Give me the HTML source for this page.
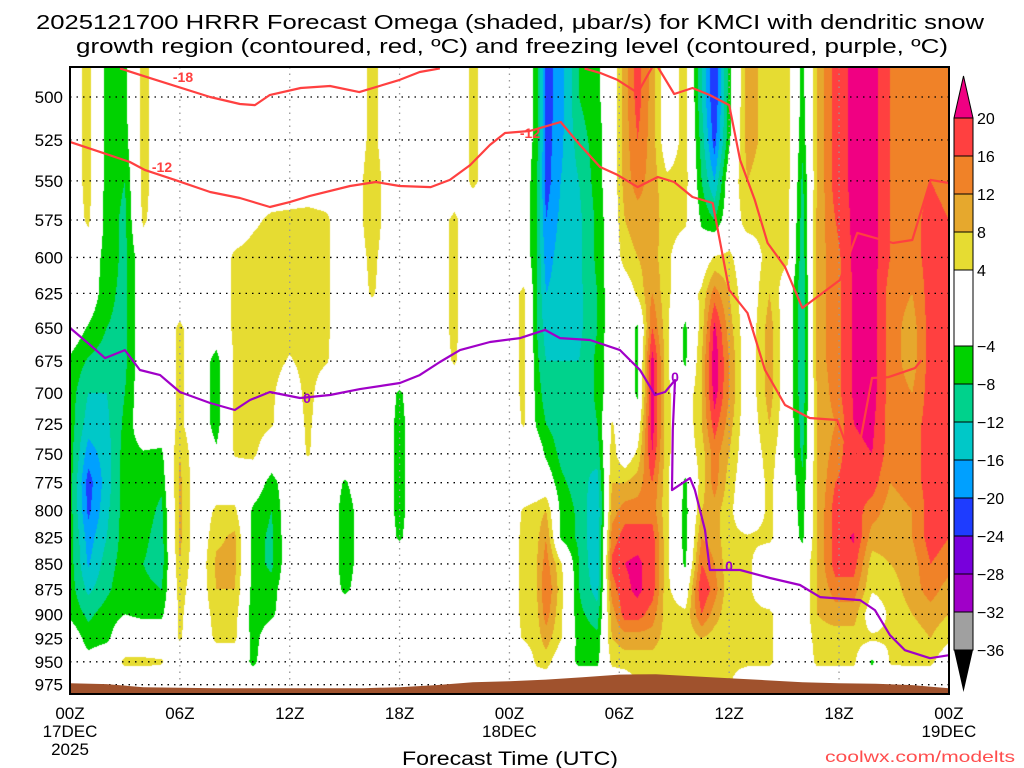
<!DOCTYPE html>
<html><head><meta charset="utf-8"><style>
html,body{margin:0;padding:0;background:#fff;width:1024px;height:768px;overflow:hidden}
#plot{position:absolute;left:70px;top:67px}
svg{position:absolute;left:0;top:0}
text{font-family:"Liberation Sans",sans-serif}
</style></head><body>
<canvas id="plot" width="879" height="627"></canvas>
<svg id="ov" width="1024" height="768">
<text x="510" y="29" text-anchor="middle" font-size="20" textLength="948" lengthAdjust="spacingAndGlyphs">2025121700 HRRR Forecast Omega (shaded, μbar/s) for KMCI with dendritic snow</text>
<text x="512" y="53" text-anchor="middle" font-size="20" textLength="872" lengthAdjust="spacingAndGlyphs">growth region (contoured, red, ºC) and freezing level (contoured, purple, ºC)</text>
<text x="510" y="765" text-anchor="middle" font-size="19" textLength="216" lengthAdjust="spacingAndGlyphs">Forecast Time (UTC)</text>
<text x="1015" y="762" text-anchor="end" font-size="16" fill="#ff4d4d" textLength="190" lengthAdjust="spacingAndGlyphs">coolwx.com/modelts</text>
<g id="grid"></g><g id="terrain"></g><g id="lines"></g><g id="axes"></g><g id="cbar"></g>
</svg>
<script>
// ---- data ----
const hours=[0,1,2,3,4,5,6,7,8,9,10,11,12,13,14,15,16.5,18,19.5,21,22,23.5,24.8,25.5,26,26.8,27.8,28.8,29.6,30.3,31,31.8,32.6,33.6,34.5,35.2,36,37,38.2,39.2,40,40.8,41.8,42.8,43.8,44.8,46,47,48];
const levels=[500,525,550,575,600,625,650,675,700,725,750,775,800,825,850,875,900,925,950,975];
const omega=[
[0,0,0,0,0,0,0,-5,-6,-6,-6,-6,-6,-6,-6,-6,-5,0,0,0],
[6,6,6,5,0,0,-4.5,-8.5,-12,-14,-18,-22,-21,-18,-16.5,-13,-9,-6,-2,0],
[-6,-6,-6,-6,-6,-7,-8,-10,-12,-13,-14,-14,-13,-12,-10,-9,-6,-5,0,0],
[-5,-6,-8,-9,-9,-9,-9,-9,-8,-7,-6,-6,-6,-6,-6,-5,-4,0,5,0],
[6,6,6,5,0,0,0,0,0,0,-4.5,-6,-6,-7,-8,-7,-5,0,5,0],
[0,0,0,0,0,0,0,0,0,0,-5,-7,-9,-10,-10,-8,-5,0,4.5,0],
[0,0,0,0,0,0,5,5,5,5,8,9,9,9,8,6,5,4.5,0,0],
[0,0,0,0,0,0,0,0,0,0,0,0,0,0,0,0,0,0,0,0],
[0,0,0,0,0,0,0,-6,-6,-6,-3,0,5,7,9,8,6,5,0,0],
[0,0,0,0,5,5,5,5,5,5,4.5,0,5,9,9,8,6,5,0,0],
[0,0,0,3,6,6,6,6,6,6,5,0,-5,-6,-6,-6,-7,-6,-5,0],
[0,0,0,5,6,6,6,6,5,4.5,0,-6,-8,-9,-9,-6,-5,0,0,0],
[0,0,0,5.5,6,6,6,3.5,0,0,0,0,0,0,0,0,0,0,0,0],
[0,0,0,6,6,6,6,6,6,5,4.5,0,0,0,0,0,0,0,0,0],
[0,0,0,5,5,5,5,4.5,0,0,0,0,0,0,0,0,0,0,0,0],
[0,0,0,0,0,0,0,0,0,0,0,-4.5,-6,-6,-6,-5,0,0,0,0],
[5,5,6,6,5,4.5,0,0,0,0,0,0,0,0,0,0,0,0,0,0],
[0,0,0,0,0,0,0,0,-4.5,-5,-5,-5,-5,-4.5,0,0,0,0,0,0],
[0,0,0,0,0,0,0,0,0,0,0,0,0,0,0,0,0,0,0,0],
[0,0,0,5,5,5,5,4.5,0,0,0,0,0,0,0,0,0,0,0,0],
[5,5,5,0,0,0,0,0,0,0,0,0,0,0,0,0,0,0,0,0],
[0,0,0,0,0,0,0,0,0,0,0,0,0,0,0,0,0,0,0,0],
[0,0,0,0,0,5,5,5,5,4.5,0,0,4.5,5,5,5,5,4.5,0,0],
[-6,-6,-8,-8,-8,-8,-8,-7,-6,-5,0,0,6,7,8,8,7,6,5,0],
[-22,-22,-22,-20,-18,-16,-14,-12,-10,-8,-5,0,8,12,14,16,14,10,6,0],
[-18,-17,-16,-15,-14,-14,-13,-12,-12,-10,-9,-7,-5,-4.5,5,6,5,4.5,0,0],
[-8,-10,-12,-13,-13,-13,-13,-12,-12,-12,-12,-10,-9,-9,-8,-8,-7,-6,-5,0],
[-5,-6,-6,-7,-7,-8,-8,-7,-7,-8,-10,-14,-16,-16,-16,-14,-10,-7,-5,0],
[0,0,0,0,0,0,0,0,0,4.5,6,8,10,14,17,14,10,8,5,0],
[10,10,10,8,6,0,0,0,0,0,0,8,14,18,20,19,18,10,6,0],
[18,16,14,10,8,5,-5,-5,-5,0,5,10,14,18,21,21,18,10,6,4.5],
[10,10,10,10,10,12,16,22,22,22,20,16,14,18,18,18,14,10,6,4.5],
[0,0,5,6,5,5,5,5,5,5,5,5,5,5,5,5,6,6,5,4.5],
[6,6,6,5,0,0,-5,-5,0,0,0,-5,-6,-6,-5,0,5,5,5,4.5],
[-12,-10,-8,-5,0,5,6,8,8,8,6,6,8,12,16,20,16,8,5,4.5],
[-24,-22,-16,-8,4.5,14,21,23,22,18,14,14,10,10,12,14,10,6,5,4.5],
[-6,-5,0,0,5,8,10,12,12,10,8,6,5,5,5,5,5,5,5,4.5],
[10,10,8,6,0,0,0,0,0,0,0,0,0,4.5,5,5,5,5,5,0],
[6,6,5,5,6,8,10,10,10,8,6,5,5,5,0,0,5,5,5,0],
[6,6,6,5,5,0,0,0,0,0,0,0,0,0,0,0,0,0,0,0],
[-6,-7,-9,-10,-11,-12,-12,-12,-11,-10,-9,-7,-6,-5,0,0,0,0,0,0],
[8,8,8,9,10,10,10,10,8,8,8,8,8,8,8,8,8,6,5,0],
[18,18,18,16,14,14,14,14,14,12,14,16,18,18,18,14,10,6,5,0],
[21,21,21,21,21,20.5,20.5,20.5,20.5,20,19,18,18,20.5,18,14,10,6,5,0],
[22,22,22,22,22,22,22,22,22,21,20,18,14,10,6,4.5,0,5,-5,0],
[16,16,16,16,16,14,14,14,14,14,14,12,10,10,8,6,5,5,4.5,0],
[14,14,14,14,14,12,10,10,12,14,14,14,12,12,10,10,8,6,5,0],
[14,14,16,18,18,18,18,18,18,18,18,18,18,18,16,14,10,8,5,0],
[14,14,14,16,18,18,18,18,18,18,18,18,18,16,14,10,8,5,0,0]
];
const thresholds=[-36,-32,-28,-24,-20,-16,-12,-8,-4,4,8,12,16,20];
const cbLabels=["-36","-32","-28","-24","-20","-16","-12","-8","-4","4","8","12","16","20"];
const surfHours=[0,2,4,6,8,10,12,14,16,18,20,22,24,26,28,30,32,34,36,38,40,42,44,46,48];
const surfP=[973.3,974.4,977.8,978.3,978.9,978.9,978.9,978.9,978.9,977.8,975.5,972.2,971.1,969.4,966.7,963.9,963.4,965.6,967.8,970.0,972.2,973.3,973.9,975.5,978.9];
const m18H=[2.73,4.37,7.65,9.28,10.1,10.9,12.6,14.2,15.8,18.0,19.1,20.2];
const m18P=[484,489.4,500,504,504.6,498.9,494.9,493.8,497.2,490.4,486,484];
const m12aH=[0,1.64,3.28,4.1,5.73,7.65,9.28,10.92,12.0,13.1,15.3,16.7,18.0,19.7,20.75,21.85,22.94,23.76,25.1,26.8,27.85,28.95,29.9,31.0,32.1,33.0,34.0,35.1,36.0,37.0,37.96,39.05,40.4,41.9,42.3,43.0,43.8,44.7,46.15,46.5];
const m12aP=[526.2,532.2,538.4,543.3,549.4,557,560.8,566.6,563.4,559.5,553.2,550.7,553.2,553.9,549.4,540.2,528,520.9,519.7,514.4,528,541.4,546.3,553.9,547.6,550.7,560.2,564,622.6,639.1,681.9,709.5,720.1,721.7,738.4,752.7,688.1,687.4,680.4,674.3];
const m12bH=[28.1,28.95,29.9,31.0,31.8];
const m12bP=[484,486.5,490.4,497.7,483.2];
const m12cH=[32.1,33.0,34.0,34.95,36.0,36.6,37.4,38.1,39.05,40.0,42.05,43.0,44.95,46.0,47.0,48.0];
const m12cP=[483.2,498.3,494.9,498.9,504.6,537.1,562.1,590.2,606.5,635.5,615.6,583.5,590.2,588.2,549.4,551.3];
const frzH=[0,1.09,1.91,3.0,3.82,4.92,6.0,7.65,9.0,9.83,10.92,12.56,14.2,15.84,18.02,19.1,20.2,21.3,22.94,24.58,25.94,26.76,28.4,30.04,31.13,31.95,32.5,33.04,32.92,32.88,33.86,34.13,34.68,34.95,36.6,38.23,39.87,40.96,43.15,43.96,44.78,45.6,46.97,48];
const frzP=[650,662.7,672.7,666.6,681.9,685.8,699.1,707.9,713.6,705.5,699.1,703.9,701.5,696.8,692,685.8,675.7,666.6,660.5,657.6,651.5,657.6,659.0,666.6,681.9,701.5,699.1,689.7,730.0,781.6,771.0,781.6,817.8,855.9,855.9,863.7,870.6,882.6,885.6,895.8,921.6,937.5,946.1,942.9];
const pTicks=[500,525,550,575,600,625,650,675,700,725,750,775,800,825,850,875,900,925,950,975];
const xTickH=[0,6,12,18,24,30,36,42,48];
const xTickL=["00Z","06Z","12Z","18Z","00Z","06Z","12Z","18Z","00Z"];
// ---- scales ----
const X=h=>70+h*18.31;
const Y=p=>97+880*Math.log(p/500);
const colors=["#000000","#a0a0a0","#a000c8","#7800dc","#1e3cff","#00a0ff","#00c8c8","#00d28c","#00d200","#ffffff","#e6dc32","#e6a82d","#f08228","#ff4040","#f00082"];
function colorIdx(v){let i=0;while(i<thresholds.length&&v>=thresholds[i])i++;return i;}
function hex(c){return [parseInt(c.slice(1,3),16),parseInt(c.slice(3,5),16),parseInt(c.slice(5,7),16)];}
const rgb=colors.map(hex);
// ---- shaded field ----
(function(){
 const cv=document.getElementById('plot'),ctx=cv.getContext('2d');
 const W=cv.width,H=cv.height,img=ctx.createImageData(W,H),d=img.data;
 const ci=[],cf=[];
 for(let px=0;px<W;px++){const h=(px+0.5)/18.31;let i=0;while(i<hours.length-2&&h>hours[i+1])i++;let f=(h-hours[i])/(hours[i+1]-hours[i]);f=Math.max(0,Math.min(1,f));ci.push(i);cf.push(f);}
 for(let py=0;py<H;py++){
  const y=py+67+0.5,p=500*Math.exp((y-97)/880);
  let r=(p-500)/25;r=Math.max(0,Math.min(levels.length-1.0001,r));const ri=Math.floor(r),rf=r-ri;
  for(let px=0;px<W;px++){
   const i=ci[px],f=cf[px];
   const a=omega[i][ri]*(1-rf)+omega[i][ri+1]*rf,b=omega[i+1][ri]*(1-rf)+omega[i+1][ri+1]*rf;
   const c=rgb[colorIdx(a*(1-f)+b*f)],k=(py*W+px)*4;
   d[k]=c[0];d[k+1]=c[1];d[k+2]=c[2];d[k+3]=255;
  }
 }
 ctx.putImageData(img,0,0);
})();
const NS='http://www.w3.org/2000/svg';
function mk(tag,attrs,parent){const e=document.createElementNS(NS,tag);for(const k in attrs)e.setAttribute(k,attrs[k]);parent.appendChild(e);return e;}
// grid
const gG=document.getElementById('grid');
pTicks.forEach(p=>{const l=mk('line',{x1:70,x2:949,y1:Y(p),y2:Y(p),stroke:'#000','stroke-width':1.3,'stroke-dasharray':'1.5 5'},gG);

});
xTickH.slice(1,-1).forEach(h=>{const l=mk('line',{x1:X(h),x2:X(h),y1:67,y2:694,stroke:'#999','stroke-width':1.3,'stroke-dasharray':'1.5 5'},gG);

});
// terrain
const tG=document.getElementById('terrain');
let tp='M'+X(surfHours[0])+',694 ';surfHours.forEach((h,i)=>{tp+='L'+X(h)+','+Y(surfP[i]).toFixed(1)+' ';});tp+='L'+X(48)+',694 Z';
const terr=mk('path',{d:tp,fill:'#a0522d'},tG);


// contour lines
const lG=document.getElementById('lines');
function line(hs,ps,col,name){const pts=hs.map((h,i)=>X(h).toFixed(1)+','+Y(ps[i]).toFixed(1)).join(' ');
 const e=mk('polyline',{points:pts,fill:'none',stroke:col,'stroke-width':2.2,'stroke-linejoin':'round'},lG);
 
 }
line(m18H,m18P,'#ff4040','contour-minus18');
line(m12aH,m12aP,'#ff4040','contour-minus12-main');
line(m12bH,m12bP,'#ff4040','contour-minus12-upper');
line(m12cH,m12cP,'#ff4040','contour-minus12-right');
line(frzH,frzP,'#a000c8','freezing-level-line');
function lab(x,y,t,col,name){const e=mk('text',{x:x,y:y,'font-size':14,'font-weight':'bold',fill:col,'text-anchor':'middle'},lG);e.textContent=t;
 
 }
lab(183,82,'-18','#ff4040','contour-label-minus18');
lab(162,172,'-12','#ff4040','contour-label-minus12');
lab(530,138,'-12','#ff4040','contour-label-minus12-b');
lab(307,403,'0','#a000c8','freezing-label-a');
lab(675,382,'0','#a000c8','freezing-label-b');
lab(729,571,'0','#a000c8','freezing-label-c');
// axes
const aG=document.getElementById('axes');
const fr=mk('rect',{x:70,y:67,width:879,height:627,fill:'none',stroke:'#000','stroke-width':2},aG);


pTicks.forEach(p=>{const t=mk('text',{x:63,y:Y(p)+6,'font-size':17,'text-anchor':'end'},aG);t.textContent=p;

});
xTickH.forEach((h,i)=>{const t=mk('text',{x:X(h),y:719,'font-size':17,'text-anchor':'middle'},aG);t.textContent=xTickL[i];

});
[[0,'17DEC',737],[0,'2025',755],[24,'18DEC',737],[48,'19DEC',737]].forEach(a=>{const t=mk('text',{x:X(a[0]),y:a[2],'font-size':17,'text-anchor':'middle'},aG);t.textContent=a[1];

});
// colorbar
const cG=document.getElementById('cbar');
const cbY=v=>650-(v+36)*(532/56);
for(let i=1;i<thresholds.length;i++){
 const r=mk('rect',{x:954,y:cbY(thresholds[i]),width:19,height:cbY(thresholds[i-1])-cbY(thresholds[i]),fill:colors[i],stroke:'#000','stroke-width':1},cG);
 
 
}
const tt=mk('polygon',{points:'954,118 973,118 963.5,76',fill:colors[14],stroke:'#000','stroke-width':1},cG);


const bt=mk('polygon',{points:'954,650 973,650 963.5,692',fill:'#000'},cG);


thresholds.forEach((v,i)=>{const t=mk('text',{x:977,y:cbY(v)+6,'font-size':16},cG);t.textContent=cbLabels[i].replace('-','−');

});
</script>
</body></html>
